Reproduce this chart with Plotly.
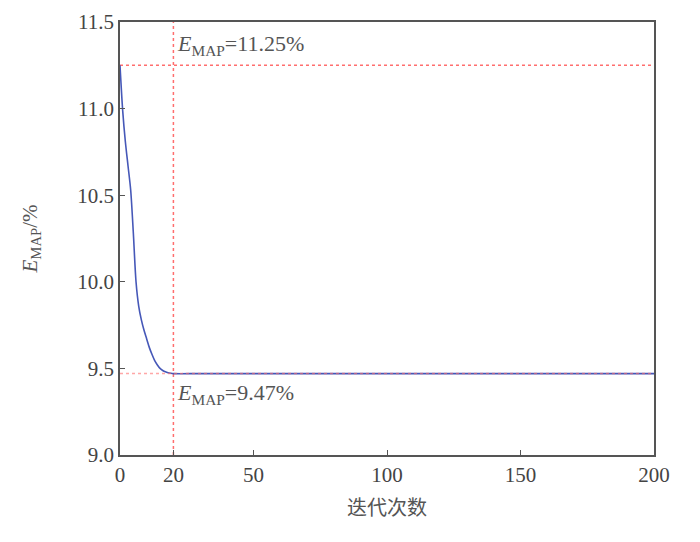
import plotly.graph_objects as go

iterations = list(range(0, 21)) + [30, 50, 100, 150, 200]
emap = [11.25, 10.99, 10.81, 10.67, 10.53, 10.28, 10.0, 9.86, 9.78, 9.72, 9.67,
        9.62, 9.58, 9.545, 9.52, 9.50, 9.488, 9.48, 9.475, 9.472, 9.47,
        9.47, 9.47, 9.47, 9.47, 9.47]
x_ticks = [0, 20, 50, 100, 150, 200]
y_ticks = [9.0, 9.5, 10.0, 10.5, 11.0, 11.5]
best_iter = 20
e_start = 11.25
e_best = 9.47

red = "#ff6e6e"
fig = go.Figure()
fig.add_trace(go.Scatter(x=[0, 200], y=[e_start, e_start], mode="lines",
                         line=dict(color=red, width=1.5, dash="dot"), showlegend=False))
fig.add_trace(go.Scatter(x=[best_iter, best_iter], y=[9.0, 11.5], mode="lines",
                         line=dict(color=red, width=1.5, dash="dot"), showlegend=False))
fig.add_trace(go.Scatter(x=iterations, y=emap, mode="lines",
                         line=dict(color="#4658b8", width=1.6, shape="spline", smoothing=0.8),
                         showlegend=False))
fig.add_trace(go.Scatter(x=[0, 200], y=[e_best, e_best], mode="lines",
                         line=dict(color=red, width=1.5, dash="dot"), opacity=0.6, showlegend=False))

serif = "Liberation Serif, Times New Roman, serif"
fig.add_annotation(x=best_iter, y=e_start, xref="x", yref="y",
                   text="<i>E</i><sub>MAP</sub>=11.25%", showarrow=False,
                   xanchor="left", yanchor="bottom", xshift=2, yshift=4,
                   font=dict(family=serif, size=22, color="#555"))
fig.add_annotation(x=best_iter, y=e_best, xref="x", yref="y",
                   text="<i>E</i><sub>MAP</sub>=9.47%", showarrow=False,
                   xanchor="left", yanchor="top", xshift=2, yshift=-4,
                   font=dict(family=serif, size=22, color="#555"))

axis_common = dict(showline=True, linecolor="#555", linewidth=1.5, mirror=True,
                   ticks="inside", ticklen=5, tickcolor="#555", showgrid=False,
                   zeroline=False, automargin=False,
                   tickfont=dict(family=serif, size=21, color="#444"))
fig.update_xaxes(range=[0, 200], tickvals=x_ticks, ticktext=[str(v) for v in x_ticks],
                 title=dict(text="迭代次数", font=dict(family="Noto Sans CJK SC", size=20, color="#555"),
                            standoff=15),
                 **axis_common)
fig.update_yaxes(range=[9.0, 11.5], tickvals=y_ticks, ticktext=[f"{v:.1f}" for v in y_ticks],
                 title=dict(text="<i>E</i><sub>MAP</sub>/%", font=dict(family=serif, size=21, color="#555"),
                            standoff=34),
                 **axis_common)
fig.update_layout(width=700, height=542, plot_bgcolor="white", paper_bgcolor="white",
                  margin=dict(l=112, r=54, t=14, b=95))
fig.write_html("out.html")
